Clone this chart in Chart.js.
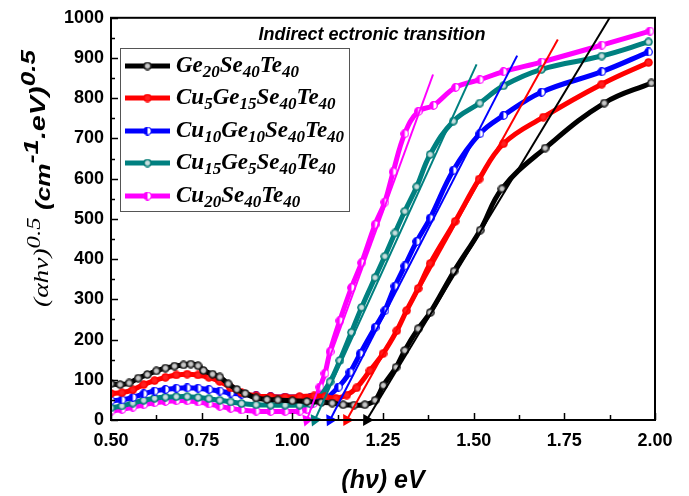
<!DOCTYPE html>
<html>
<head>
<meta charset="utf-8">
<script src="https://cdn.jsdelivr.net/npm/chart.js@4.4.1/dist/chart.umd.min.js"></script>
<style>
html,body{margin:0;padding:0;background:#fff}
</style>
</head>
<body>
<canvas id="c" width="689" height="496"></canvas>
<script>
// photon energy (eV) and (alpha h nu)^0.5
var geX = [0.50,0.525,0.55,0.575,0.60,0.625,0.65,0.675,0.70,0.72,0.74,0.755,0.78,0.80,0.823,0.847,0.87,0.90,0.93,0.96,1.00,1.04,1.08,1.11,1.14,1.17,1.20,1.228,1.251,1.286,1.31,1.347,1.38,1.446,1.518,1.578,1.697,1.86,1.99];
var geY = [90,88,92,104,113,122,129,134,137,139,135,123,114,107,90,76,66,55,51,50,48,46,44,42,38,37,38,49,86,131,173,227,267,370,472,575,676,788,838];

var cu5X = [0.50,0.53,0.56,0.59,0.62,0.65,0.68,0.71,0.74,0.77,0.80,0.83,0.86,0.90,0.94,0.98,1.02,1.06,1.09,1.12,1.15,1.177,1.214,1.25,1.288,1.315,1.347,1.38,1.449,1.515,1.582,1.692,1.853,1.982];
var cu5Y = [66,68,75,88,98,106,112,114,112,106,96,80,68,60,58,57,58,60,58,54,62,80,123,165,222,272,327,389,494,599,687,753,835,889];

var cu10X = [0.50,0.53,0.56,0.59,0.62,0.65,0.68,0.71,0.74,0.77,0.80,0.83,0.86,0.90,0.94,0.98,1.02,1.05,1.08,1.127,1.159,1.187,1.228,1.255,1.283,1.31,1.343,1.38,1.444,1.517,1.582,1.687,1.853,1.982];
var cu10Y = [48,50,56,65,72,76,79,80,79,76,72,67,64,60,58,57,57,55,47,82,119,165,230,272,333,383,444,502,621,712,757,815,866,915];

var cu15X = [0.50,0.53,0.56,0.59,0.62,0.65,0.68,0.71,0.74,0.77,0.80,0.83,0.86,0.90,0.94,0.98,1.02,1.05,1.072,1.104,1.131,1.163,1.191,1.228,1.255,1.283,1.31,1.343,1.38,1.444,1.517,1.582,1.687,1.853,1.982];
var cu15Y = [30,35,42,49,54,57,58,58,56,53,49,45,41,38,37,37,37,40,53,95,148,218,280,354,407,465,519,580,660,743,788,831,872,905,940];

var cu20X = [0.50,0.53,0.56,0.59,0.62,0.65,0.68,0.71,0.74,0.77,0.80,0.83,0.86,0.90,0.94,0.98,1.02,1.04,1.058,1.076,1.09,1.104,1.131,1.163,1.191,1.228,1.255,1.278,1.31,1.347,1.389,1.45,1.517,1.582,1.687,1.853,1.986];
var cu20Y = [22,26,32,38,43,46,48,48,45,40,34,29,25,22,21,21,22,26,41,82,116,170,247,329,391,486,542,617,712,767,782,827,846,866,890,932,967];

// linear fits: foot on the energy axis and upper end
var fitX0 = [1.205,1.15,1.104,1.062,1.04];
var fitX1 = [1.875,1.732,1.62,1.508,1.388];
var fitY1 = [1000,946,906,884,859];

var colors = ['#000000','#ff0000','#0000ff','#008080','#ff00ff'];
// legend names as [text, subscript] pairs
var names = [
  [['Ge','20'],['Se','40'],['Te','40']],
  [['Cu','5'],['Ge','15'],['Se','40'],['Te','40']],
  [['Cu','10'],['Ge','10'],['Se','40'],['Te','40']],
  [['Cu','15'],['Ge','5'],['Se','40'],['Te','40']],
  [['Cu','20'],['Se','40'],['Te','40']]
];
var xTicks = [0.5,0.75,1.0,1.25,1.5,1.75,2.0];
var yTicks = [0,100,200,300,400,500,600,700,800,900,1000];

function ball(base, light) {
  var c = document.createElement('canvas');
  c.width = c.height = 9;
  var g = c.getContext('2d');
  var gr = g.createRadialGradient(4.5,4.5,0,4.5,4.5,4.5);
  gr.addColorStop(0, light);
  gr.addColorStop(0.4, light);
  gr.addColorStop(0.75, base);
  gr.addColorStop(1, base);
  g.fillStyle = gr;
  g.beginPath(); g.arc(4.5,4.5,4.3,0,Math.PI*2); g.fill();
  return c;
}
function half(col) {
  var c = document.createElement('canvas');
  c.width = c.height = 9;
  var g = c.getContext('2d');
  g.fillStyle = '#fff';
  g.beginPath(); g.arc(4.5,4.5,3.8,0,Math.PI*2); g.fill();
  g.fillStyle = col;
  g.beginPath(); g.moveTo(4.5,4.5); g.arc(4.5,4.5,3.8,Math.PI/2,Math.PI*1.5); g.fill();
  g.strokeStyle = col; g.lineWidth = 1.2;
  g.beginPath(); g.arc(4.5,4.5,3.8,0,Math.PI*2); g.stroke();
  return c;
}
var marks = [ball('#1a1a1a','#c8c8c8'), ball('#ff0000','#ff2020'), half('#0000ff'), ball('#007a74','#c8dede'), half('#ff00ff')];

function pts(xs, ys) {
  var out = [];
  for (var i = 0; i < xs.length; i++) out.push({x: xs[i], y: ys[i]});
  return out;
}

var series = [pts(geX,geY), pts(cu5X,cu5Y), pts(cu10X,cu10Y), pts(cu15X,cu15Y), pts(cu20X,cu20Y)];
var datasets = [];
for (var i = 0; i < 5; i++) {
  datasets.push({
    data: series[i],
    borderColor: colors[i],
    borderWidth: 5,
    pointStyle: marks[i],
    pointRadius: 4,
    tension: 0.4,
    order: i + 1
  });
}
var arrowRot = [211, 209, 207, 204, 200];
for (var k = 0; k < 5; k++) {
  datasets.push({
    data: [{x: fitX0[k], y: 0}, {x: fitX1[k], y: fitY1[k]}],
    borderColor: colors[k],
    backgroundColor: colors[k],
    borderWidth: 2,
    pointStyle: 'triangle',
    pointRadius: [5, 0],
    rotation: arrowRot[k],
    clip: false,
    order: 0
  });
}

function richWidth(ctx, parts) {
  var w = 0;
  parts.forEach(function(p){ ctx.font = p.f; w += ctx.measureText(p.t).width; });
  return w;
}
function drawRich(ctx, parts, x, y) {
  parts.forEach(function(p){
    ctx.font = p.f;
    ctx.fillText(p.t, x, y - (p.dy || 0));
    x += ctx.measureText(p.t).width;
  });
}

var yTitle = [
  {t: '(\u03b1h\u03bd)', f: 'italic 21px "Liberation Serif"', dy: 0},
  {t: '0.5', f: 'italic 19px "Liberation Serif"', dy: 8},
  {t: ' (cm', f: 'bold italic 20px "Liberation Sans"', dy: -2},
  {t: '-1', f: 'bold italic 21px "Liberation Sans"', dy: 10},
  {t: '.eV)', f: 'bold italic 22px "Liberation Sans"', dy: 3},
  {t: '0.5', f: 'bold italic 20px "Liberation Sans"', dy: 13}
];

var deco = {
  id: 'deco',
  afterDraw: function(chart) {
    var ctx = chart.ctx, a = chart.chartArea, xs = chart.scales.x, ys = chart.scales.y;
    ctx.save();
    ctx.strokeStyle = '#000';
    ctx.lineWidth = 2;
    ctx.strokeRect(a.left, a.top, a.right - a.left, a.bottom - a.top);
    ctx.lineWidth = 1.5;
    ctx.beginPath();
    for (var v = 0; v <= 1000; v += 50) {
      var py = Math.round(ys.getPixelForValue(v)) + 0.5;
      var len = v % 100 === 0 ? 7 : 4;
      ctx.moveTo(a.left, py); ctx.lineTo(a.left + len, py);
    }
    for (var j = 0; j <= 12; j++) {
      var px = Math.round(xs.getPixelForValue(0.5 + j * 0.125)) + 0.5;
      var l2 = j % 2 === 0 ? 7 : 5;
      ctx.moveTo(px, a.bottom); ctx.lineTo(px, a.bottom - l2);
    }
    ctx.stroke();

    // inner title
    ctx.fillStyle = '#000';
    ctx.font = 'bold italic 18px "Liberation Sans"';
    ctx.textAlign = 'center';
    ctx.textBaseline = 'alphabetic';
    ctx.fillText('Indirect ectronic transition', 372, 40);

    // legend
    ctx.textAlign = 'left';
    ctx.fillStyle = '#fff';
    ctx.fillRect(120, 48, 229, 163);
    ctx.strokeStyle = '#555';
    ctx.lineWidth = 1;
    ctx.strokeRect(120.5, 48.5, 229, 163);
    var rows = [66, 98, 131, 163, 196];
    for (var r = 0; r < 5; r++) {
      var yy = rows[r];
      ctx.strokeStyle = colors[r];
      ctx.lineWidth = 5;
      ctx.beginPath(); ctx.moveTo(125, yy); ctx.lineTo(170, yy); ctx.stroke();
      ctx.drawImage(marks[r], 143, yy - 4.5);
      var parts = [];
      names[r].forEach(function(n){
        parts.push({t: n[0], f: 'bold italic 23px "Liberation Serif"', dy: 0});
        parts.push({t: n[1], f: 'bold italic 17px "Liberation Serif"', dy: -5});
      });
      ctx.fillStyle = '#000';
      drawRich(ctx, parts, 176, yy + 6);
    }

    // y axis title, rotated and stretched along its length
    var w = richWidth(ctx, yTitle);
    ctx.translate(48, 307);
    ctx.rotate(-Math.PI / 2);
    ctx.scale(257 / w, 1);
    ctx.fillStyle = '#000';
    drawRich(ctx, yTitle, 0, 0);
    ctx.restore();
  }
};

new Chart(document.getElementById('c'), {
  type: 'line',
  data: {datasets: datasets},
  options: {
    responsive: false,
    animation: false,
    layout: {padding: {top: 15, right: 34, left: 0, bottom: 0}},
    plugins: {legend: {display: false}, tooltip: {enabled: false}},
    scales: {
      x: {
        type: 'linear', min: 0.5, max: 2.0,
        afterBuildTicks: function(s){ s.ticks = xTicks.map(function(v){ return {value: v}; }); },
        afterFit: function(s){ s.height = 76; },
        grid: {display: false, drawTicks: false},
        border: {display: false},
        ticks: {
          padding: 10, color: '#000',
          font: {family: '"Liberation Sans"', size: 18, weight: 'bold'},
          callback: function(v){ return Number(v).toFixed(2); }
        },
        title: {
          display: true, text: '(h\u03bd) eV', color: '#000',
          font: {family: '"Liberation Sans"', size: 25, weight: 'bold', style: 'italic'},
          padding: {top: 4, bottom: 0}
        }
      },
      y: {
        type: 'linear', min: 0, max: 1000,
        afterBuildTicks: function(s){ s.ticks = yTicks.map(function(v){ return {value: v}; }); },
        afterFit: function(s){ s.width = 111; },
        grid: {display: false, drawTicks: false},
        border: {display: false},
        ticks: {
          padding: 7, color: '#000',
          font: {family: '"Liberation Sans"', size: 18, weight: 'bold'},
          callback: function(v){ return String(v); }
        }
      }
    }
  },
  plugins: [deco]
});
</script>
</body>
</html>
